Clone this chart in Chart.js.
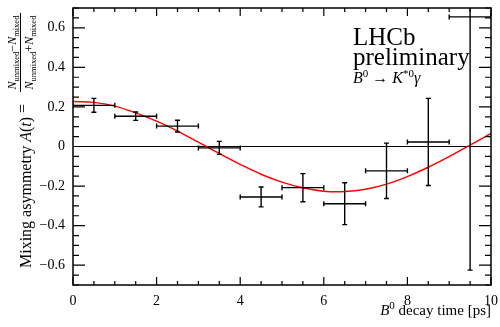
<!DOCTYPE html>
<html>
<head>
<meta charset="utf-8">
<script src="https://cdn.jsdelivr.net/npm/chart.js@4"></script>
<style>
  html, body { margin:0; padding:0; background:#fff; }
  #c { display:block; }
</style>
</head>
<body>
<canvas id="c" width="500" height="327"></canvas>
<script>
// measured bins (decay time, ps)
const binCenters = [0.5, 1.5, 2.5, 3.5, 4.5, 5.5, 6.5, 7.5, 8.5, 9.5]
const binHalfWidths = [0.5, 0.5, 0.5, 0.5, 0.5, 0.5, 0.5, 0.5, 0.5, 0.5]
const asymValues = [0.208, 0.153, 0.103, -0.007, -0.255, -0.208, -0.289, -0.123, 0.023, 0.655]
const asymErrors = [0.035, 0.021, 0.030, 0.033, 0.050, 0.071, 0.106, 0.140, 0.220, 1.28]

// fit curve
const fitTimes = [0, 0.5, 1, 1.5, 2, 2.5, 3, 3.5, 4, 4.5, 5, 5.5, 6, 6.5, 7, 7.5, 8, 8.5, 9, 9.5, 10]
const fitValues = [0.227, 0.223, 0.204, 0.170, 0.128, 0.078, 0.022, -0.035, -0.090, -0.140, -0.180, -0.209, -0.226, -0.228, -0.216, -0.190, -0.152, -0.105, -0.051, 0.007, 0.066]

const xTicks = [0, 2, 4, 6, 8, 10]
const yTicks = [-0.6, -0.4, -0.2, 0, 0.2, 0.4, 0.6]

const SERIF = "'Liberation Serif', 'DejaVu Serif', serif"

function fmtY(v){
  if (Math.abs(v) < 1e-9) return "0"
  return (v < 0 ? "\u2212" : "") + Math.abs(v).toFixed(1)
}

// draws a list of {t, size, italic, dy} pieces one after another, returns width
function richText(ctx, parts, x, y, align){
  let total = 0
  parts.forEach(p=>{
    ctx.font = (p.italic ? "italic " : "") + p.size + "px " + SERIF
    p.w = ctx.measureText(p.t).width
    total += p.w
  })
  let cx = x
  if (align === "right") cx = x - total
  if (align === "center") cx = x - total/2
  ctx.textBaseline = "alphabetic"
  ctx.textAlign = "left"
  parts.forEach(p=>{
    ctx.font = (p.italic ? "italic " : "") + p.size + "px " + SERIF
    ctx.fillText(p.t, cx, y + (p.dy || 0))
    cx += p.w
  })
  return total
}

const decor = {
  id: "decor",
  beforeDatasetsDraw(chart){
    const ctx = chart.ctx, a = chart.chartArea, ys = chart.scales.y
    const y0 = ys.getPixelForValue(0)
    ctx.save()
    ctx.strokeStyle = "#000"
    ctx.lineWidth = 1.2
    ctx.beginPath()
    ctx.moveTo(a.left, y0)
    ctx.lineTo(a.right, y0)
    ctx.stroke()
    ctx.restore()
  },
  afterDatasetsDraw(chart){
    const ctx = chart.ctx, a = chart.chartArea
    const xs = chart.scales.x, ys = chart.scales.y
    ctx.save()
    ctx.beginPath()
    ctx.rect(a.left, a.top, a.right - a.left, a.bottom - a.top)
    ctx.clip()
    ctx.strokeStyle = "#000"
    ctx.lineWidth = 1.4
    const cap = 2.5
    for (let i = 0; i < binCenters.length; i++){
      const xl = xs.getPixelForValue(binCenters[i] - binHalfWidths[i])
      const xr = xs.getPixelForValue(binCenters[i] + binHalfWidths[i])
      const xc = xs.getPixelForValue(binCenters[i])
      const yc = ys.getPixelForValue(asymValues[i])
      const yt = ys.getPixelForValue(asymValues[i] + asymErrors[i])
      const yb = ys.getPixelForValue(asymValues[i] - asymErrors[i])
      ctx.beginPath()
      ctx.moveTo(xl, yc); ctx.lineTo(xr, yc)
      ctx.moveTo(xl, yc - cap); ctx.lineTo(xl, yc + cap)
      ctx.moveTo(xr, yc - cap); ctx.lineTo(xr, yc + cap)
      ctx.moveTo(xc, yt); ctx.lineTo(xc, yb)
      ctx.moveTo(xc - cap, yt); ctx.lineTo(xc + cap, yt)
      ctx.moveTo(xc - cap, yb); ctx.lineTo(xc + cap, yb)
      ctx.stroke()
    }
    ctx.restore()

    // frame + inward ticks on all four sides
    ctx.save()
    ctx.strokeStyle = "#000"
    ctx.lineWidth = 1.5
    ctx.strokeRect(a.left, a.top, a.right - a.left, a.bottom - a.top)
    ctx.lineWidth = 1.2
    ctx.beginPath()
    for (let v = 0; v <= 10.001; v += 0.5){
      const px = xs.getPixelForValue(v)
      const len = Math.abs(v/2 - Math.round(v/2)) < 1e-6 ? 8 : 4
      ctx.moveTo(px, a.bottom); ctx.lineTo(px, a.bottom - len)
      ctx.moveTo(px, a.top); ctx.lineTo(px, a.top + len)
    }
    for (let k = -14; k <= 14; k++){
      const v = k * 0.05
      const py = ys.getPixelForValue(v)
      const len = k % 4 === 0 ? 12 : 6
      ctx.moveTo(a.left, py); ctx.lineTo(a.left + len, py)
      ctx.moveTo(a.right, py); ctx.lineTo(a.right - len, py)
    }
    ctx.stroke()
    ctx.restore()
  },
  afterDraw(chart){
    const ctx = chart.ctx, a = chart.chartArea
    ctx.save()
    ctx.fillStyle = "#000"

    // experiment label
    ctx.font = "25px " + SERIF
    ctx.fillText("LHCb", 353, 45)
    ctx.fillText("preliminary", 353, 65)
    richText(ctx, [
      {t:"B", size:16, italic:true},
      {t:"0", size:11, dy:-6},
      {t:" \u2192 ", size:16},
      {t:"K", size:16, italic:true},
      {t:"*0", size:11, dy:-6},
      {t:"\u03B3", size:16, italic:true}
    ], 353, 83)

    // x axis title
    richText(ctx, [
      {t:"B", size:15, italic:true},
      {t:"0", size:11, dy:-6},
      {t:" decay time [ps]", size:15}
    ], a.right, 315, "right")

    // y axis title, rotated
    ctx.translate(31, 268)
    ctx.rotate(-Math.PI/2)
    richText(ctx, [
      {t:"Mixing asymmetry ", size:16},
      {t:"A", size:16, italic:true},
      {t:"(", size:16},
      {t:"t", size:16, italic:true},
      {t:")", size:16}
    ], 0, 0)
    ctx.font = "16px " + SERIF
    ctx.fillText("=", 155, -3)
    ctx.strokeStyle = "#000"
    ctx.lineWidth = 1
    ctx.beginPath()
    ctx.moveTo(176, -10.5)
    ctx.lineTo(255, -10.5)
    ctx.stroke()
    richText(ctx, [
      {t:"N", size:12, italic:true},
      {t:"unmixed", size:8.5, dy:3},
      {t:"\u2212", size:12},
      {t:"N", size:12, italic:true},
      {t:"mixed", size:8.5, dy:3}
    ], 215.5, -15, "center")
    richText(ctx, [
      {t:"N", size:12, italic:true},
      {t:"unmixed", size:8.5, dy:3},
      {t:"+", size:12},
      {t:"N", size:12, italic:true},
      {t:"mixed", size:8.5, dy:3}
    ], 215.5, 1.5, "center")
    ctx.restore()
  }
}

const fitData = fitTimes.map((t, i)=>({ x: t, y: fitValues[i] }))
const pointData = binCenters.map((t, i)=>({ x: t, y: asymValues[i] }))

new Chart(document.getElementById("c"), {
  type: "scatter",
  data: {
    datasets: [
      { label: "fit", data: fitData, showLine: true, borderColor: "#ff0000", borderWidth: 1.5, pointRadius: 0, tension: 0.4, fill: false },
      { label: "data", data: pointData, pointRadius: 0, showLine: false }
    ]
  },
  options: {
    responsive: false,
    animation: false,
    devicePixelRatio: 1,
    layout: { padding: { top: 8, right: 9, left: 0, bottom: 0 } },
    plugins: { legend: { display: false }, tooltip: { enabled: false } },
    scales: {
      x: {
        type: "linear", min: 0, max: 10,
        grid: { display: false, drawTicks: false },
        border: { display: false },
        afterBuildTicks: s => { s.ticks = xTicks.map(v=>({ value: v })) },
        ticks: { color: "#000", font: { family: SERIF, size: 14 }, padding: 8, maxRotation: 0, callback: v => String(v) },
        afterFit: s => { s.height = 42; s.paddingLeft = 0; s.paddingRight = 0 }
      },
      y: {
        type: "linear", min: -0.7, max: 0.7,
        grid: { display: false, drawTicks: false },
        border: { display: false },
        afterBuildTicks: s => { s.ticks = yTicks.map(v=>({ value: v })) },
        ticks: { color: "#000", font: { family: SERIF, size: 14 }, padding: 8, callback: v => fmtY(v) },
        afterFit: s => { s.width = 73; s.paddingTop = 0; s.paddingBottom = 0 }
      }
    }
  },
  plugins: [decor]
})
</script>
</body>
</html>
